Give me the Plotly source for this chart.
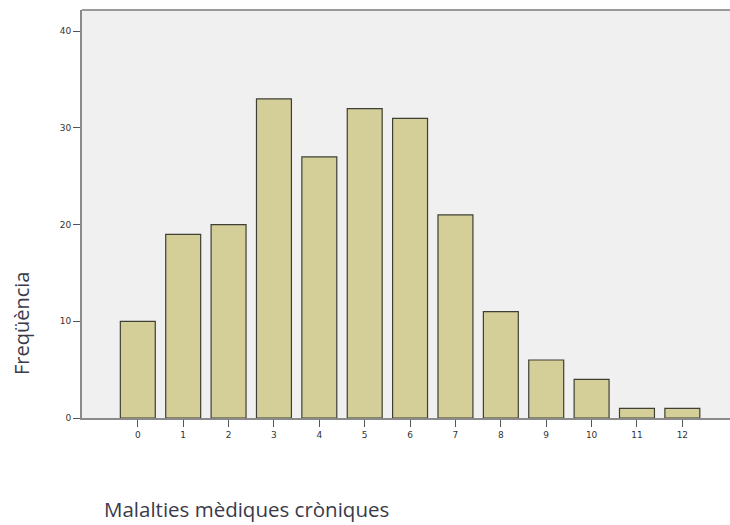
import plotly.graph_objects as go

categories = [0, 1, 2, 3, 4, 5, 6, 7, 8, 9, 10, 11, 12]
frequencies = [10, 19, 20, 33, 27, 32, 31, 21, 11, 6, 4, 1, 1]
y_ticks = [0, 10, 20, 30, 40]

W, H = 730, 525
L, T = 82, 10
B = H - 418
PW, PH = W - L, 418 - T

fig = go.Figure()
fig.add_trace(go.Bar(
    x=categories, y=frequencies, width=0.77,
    marker=dict(color="#D4CF98", line=dict(color="#3f3f35", width=1.2)),
))

fig.update_layout(
    width=W, height=H,
    margin=dict(l=L, r=0, t=T, b=B),
    paper_bgcolor="white", plot_bgcolor="#F0F0F0",
    showlegend=False,
    font=dict(family="DejaVu Sans", size=9, color="#333333"),
    xaxis=dict(
        range=[-1.23, 13.05], tickmode="array", tickvals=categories,
        ticktext=[str(c) for c in categories],
        showgrid=False, zeroline=False,
        showline=True, linecolor="#8a8a8a", linewidth=2,
        ticks="outside", ticklen=7, tickcolor="#555555", tickwidth=1,
        tickfont=dict(size=9, color="#333333"),
    ),
    yaxis=dict(
        range=[0, 42.2], tickmode="array", tickvals=y_ticks,
        showgrid=False, zeroline=False,
        showline=True, linecolor="#8a8a8a", linewidth=2,
        ticks="outside", ticklen=7, tickcolor="#555555", tickwidth=1,
        tickfont=dict(size=9, color="#333333"),
    ),
)
fig.add_shape(type="line", xref="paper", yref="paper", x0=0, x1=1, y0=1, y1=1,
              line=dict(color="#9a9a9a", width=2))

fig.add_annotation(text="Freqüència", xref="paper", yref="paper",
                   x=(21 - 82) / PW, y=(418 - 324) / PH,
                   xanchor="center", yanchor="middle",
                   textangle=-90, showarrow=False,
                   font=dict(family="Open Sans", size=20, color="#3a3a4a"))
fig.add_annotation(text="Malalties mèdiques cròniques", xref="paper", yref="paper",
                   x=(102 - 82) / PW, y=-(509 - 418) / PH,
                   xanchor="left", yanchor="middle", showarrow=False,
                   font=dict(family="Open Sans", size=20.5, color="#3a3a4a"))

fig.write_html("out.html", config={"displayModeBar": False},
               post_script="document.body.style.margin='0px';document.body.style.overflow='hidden';")
